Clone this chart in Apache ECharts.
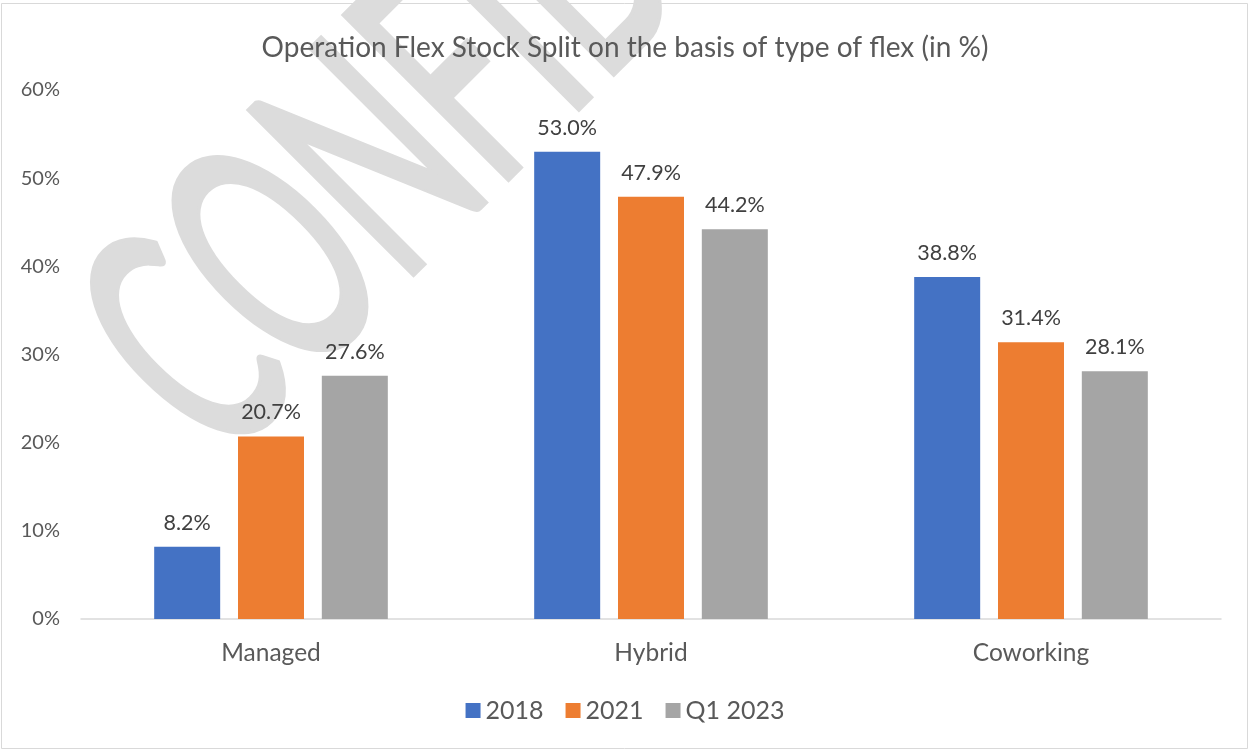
<!DOCTYPE html>
<html>
<head>
<meta charset="utf-8">
<script src="https://cdn.jsdelivr.net/npm/echarts@6/dist/echarts.min.js"></script>
<style>
  html, body { margin: 0; padding: 0; background: #fff; }
  #chart { width: 1250px; height: 751px; }
</style>
</head>
<body>
<div id="chart"></div>
<script>
(function(){
	'use strict';

	// data
	var categories = ['Managed', 'Hybrid', 'Coworking'];
	var seriesNames = ['2018', '2021', 'Q1 2023'];
	var values2018 = [8.2, 53.0, 38.8];
	var values2021 = [20.7, 47.9, 31.4];
	var valuesQ12023 = [27.6, 44.2, 28.1];
	var colors = ['#4472C4', '#ED7D31', '#A5A5A5'];

	var font = 'Lato';
	var textColor = '#595959';

	var myChart = echarts.init(document.getElementById('chart'));

	var makeSeries = function(name, data, color){
		return {
			name: name,
			type: 'bar',
			data: data,
			barWidth: 66,
			barGap: '27%',
			z: 3,
			itemStyle: { color: color },
			label: {
				show: true,
				position: 'top',
				distance: 13,
				fontFamily: font,
				fontSize: 21.5,
				color: '#404040',
				formatter: function(p){ return p.value.toFixed(1) + '%'; }
			}
		};
	};

	var option = {
		backgroundColor: '#fff',
		animation: false,
		title: {
			text: 'Operation Flex Stock Split on the basis of type of flex (in %)',
			left: 'center',
			top: 29,
			textStyle: { fontFamily: font, fontSize: 28, fontWeight: 'normal', color: textColor }
		},
		legend: {
			bottom: 23,
			left: 'center',
			itemWidth: 15,
			itemHeight: 15,
			itemGap: 22,
			icon: 'rect',
			textStyle: { fontFamily: font, fontSize: 25, color: textColor },
			data: seriesNames
		},
		grid: { left: 81, right: 29, top: 90, bottom: 132 },
		xAxis: {
			type: 'category',
			data: categories,
			axisTick: { show: false },
			axisLine: { lineStyle: { color: '#d9d9d9', width: 1.5 } },
			axisLabel: { fontFamily: font, fontSize: 24.5, color: textColor, margin: 22 }
		},
		yAxis: {
			type: 'value',
			min: 0,
			max: 60,
			interval: 10,
			splitLine: { show: false },
			axisLine: { show: false },
			axisTick: { show: false },
			axisLabel: { fontFamily: font, fontSize: 20, color: textColor, margin: 21, formatter: '{value}%' }
		},
		graphic: [
			{
				type: 'rect',
				z: -10,
				silent: true,
				shape: { x: 1.5, y: 3.5, width: 1246, height: 745 },
				style: { fill: 'none', stroke: '#d9d9d9', lineWidth: 1 }
			},
			{
				// watermark
				type: 'text',
				z: -5,
				silent: true,
				x: 260,
				y: 506,
				rotation: 45 * Math.PI / 180,
				scaleX: 0.55,
				style: {
					text: 'CONFIDENTIAL',
					fontFamily: font,
					fontSize: 320,
					fill: '#dcdcdc',
					stroke: '#dcdcdc',
					lineWidth: 8,
					align: 'left',
					verticalAlign: 'bottom'
				}
			}
		],
		series: [
			makeSeries(seriesNames[0], values2018, colors[0]),
			makeSeries(seriesNames[1], values2021, colors[1]),
			makeSeries(seriesNames[2], valuesQ12023, colors[2])
		]
	};
	myChart.setOption(option);
})();
</script>
</body>
</html>
